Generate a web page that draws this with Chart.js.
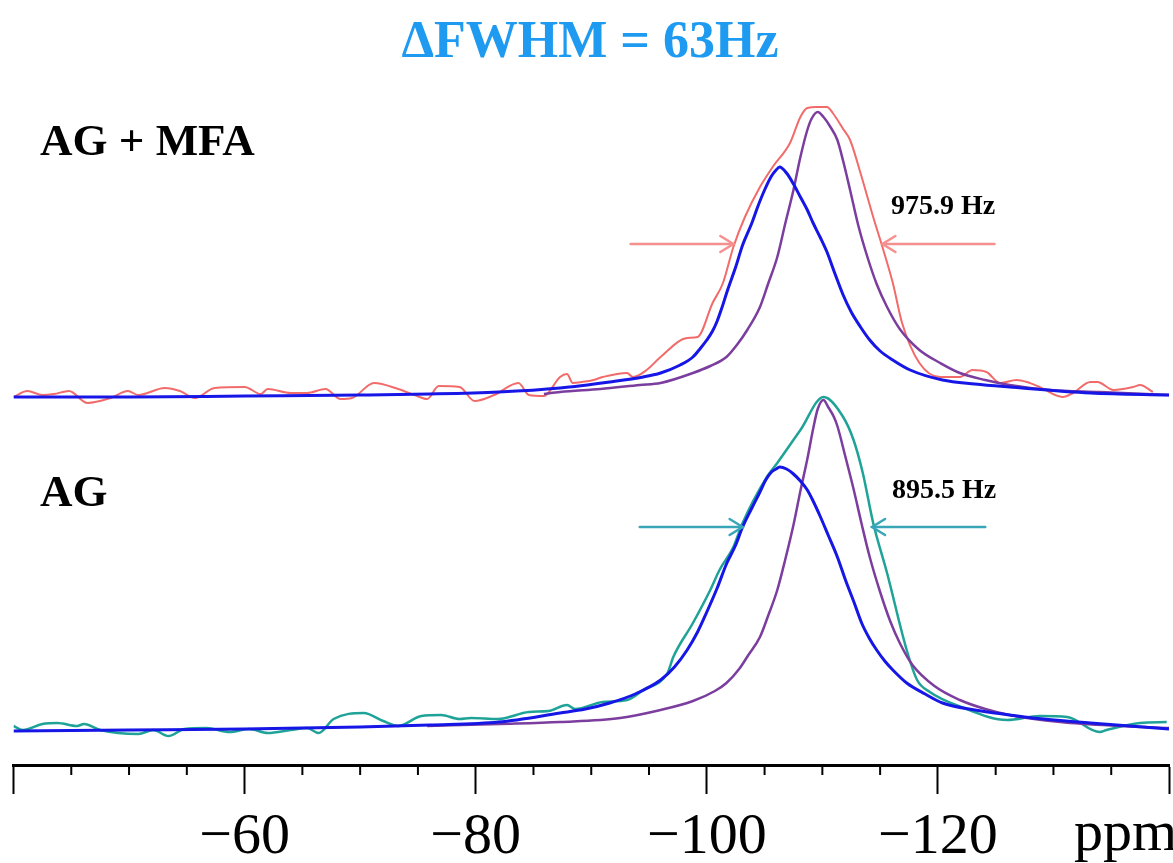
<!DOCTYPE html>
<html><head><meta charset="utf-8">
<script src="https://cdn.jsdelivr.net/npm/chart.js@4.4.1/dist/chart.umd.min.js"></script>
<style>html,body{margin:0;padding:0;background:#fff}#wrap{width:1173px;height:863px;position:relative}</style>
</head><body><div id="wrap"><canvas id="c"></canvas></div>
<script>
// ---- tick labels ----
const majorTicks = [-40, -60, -80, -100, -120, -140];
const minorTicks = [-45, -50, -55, -65, -70, -75, -85, -90, -95, -105, -110, -115, -125, -130, -135];
const labelledTicks = [-60, -80, -100, -120];

// ---- AG + MFA (top) ----
const redPpm = [-40.0,-41.2,-42.5,-43.5,-44.8,-46.4,-48.4,-49.9,-50.8,-53.1,-54.4,-55.7,-57.4,-60.0,-61.4,-62.0,-64.0,-65.4,-67.0,-68.3,-69.3,-71.2,-73.3,-74.7,-75.8,-76.8,-78.6,-79.9,-81.6,-83.7,-84.6,-85.9,-87.3,-87.9,-88.4,-89.2,-90.2,-91.0,-93.1,-93.6,-94.8,-96.0,-98.3,-99.2,-100.5,-101.4,-102.3,-103.3,-104.6,-105.7,-107.2,-108.1,-108.7,-109.5,-110.4,-110.9,-111.8,-112.4,-113.3,-114.4,-115.2,-116.1,-116.9,-118.4,-120.2,-121.9,-123.0,-124.2,-125.4,-126.8,-127.7,-128.8,-130.8,-131.7,-133.2,-133.8,-135.2,-136.9,-137.5,-138.6];
const redInt = [0,6,2,3,6,-6,-1,6,2,9,6,-1,9,10,3,8,4,4,8,-2,-1,14,8,2,-2,11,10,-4,2,14,2,1,20,23,14,15,17,20,24,20,27,40,59,60,94,114,150,180,210,230,254,280,289,290,290,284,268,257,224,180,150,114,74,34,20,20,27,25,14,17,15,10,0,4,15,15,7,10,12,5];

const purpTopPpm = [-85.9,-87.3,-90.8,-94.2,-96.0,-98.8,-100.3,-101.7,-102.6,-103.5,-104.6,-105.3,-106.1,-106.8,-107.5,-108.1,-108.7,-109.1,-109.6,-110.1,-110.7,-111.3,-111.8,-112.4,-113.1,-113.9,-114.7,-115.6,-116.7,-118.4,-120.2,-121.9,-124.1,-126.2,-129.7,-134.0,-140.0];
const purpTopInt = [3,5,8,12,14,24,31,40,52,67,90,113,140,174,207,240,267,279,285,280,270,257,236,207,172,140,113,90,68,47,34,24,17,12,7,5,2];

const blueTopPpm = [-40,-50,-60,-70,-76,-82,-87.3,-91.6,-94.5,-96.0,-97.7,-98.8,-99.4,-100.0,-100.5,-100.9,-101.3,-101.8,-102.5,-103.1,-103.9,-104.4,-105.0,-105.6,-106.0,-106.3,-106.9,-107.5,-108.1,-108.7,-109.2,-109.8,-110.4,-111.1,-111.8,-112.5,-113.3,-114.1,-115.0,-116.1,-117.6,-120.4,-123.2,-126.2,-133.2,-140];
const blueTopInt = [0,0,1,2,3,5,9,15,20,24,32,40,48,57,66,76,89,107,130,152,174,190,207,221,227,230,224,213,200,187,174,160,145,123,102,85,70,57,46,37,27,17,13,10,4,2];

// ---- AG (bottom) ----
const tealPpm = [-40.0,-40.8,-42.5,-43.8,-45.5,-46.1,-47.5,-50.8,-52.1,-53.4,-54.8,-56.7,-58.7,-60.4,-62.0,-64.0,-65.4,-66.4,-67.7,-70.3,-72.0,-73.3,-75.3,-77.0,-78.6,-79.6,-81.9,-84.6,-86.3,-87.9,-88.6,-91.0,-93.1,-94.5,-96.6,-97.1,-98.8,-100.3,-101.1,-102.3,-103.1,-105.2,-106.1,-108.1,-110.1,-111.8,-112.7,-113.5,-114.4,-115.6,-117.3,-118.2,-119.3,-122.0,-126.0,-128.8,-131.2,-134.0,-134.6,-137.5,-139.8];
const tealInt = [3,-1,5,6,3,5,-1,-5,-1,-7,0,1,-3,0,-4,-1,1,-4,10,16,8,3,13,14,10,11,10,17,18,24,20,27,29,39,56,72,106,139,159,182,206,252,266,299,332,312,289,256,206,156,79,49,37,22,9,13,12,-3,-1,6,7];

const purpBotPpm = [-75.8,-82.1,-87.3,-92.5,-96.0,-98.8,-100.7,-101.7,-102.8,-103.6,-104.6,-105.3,-106.1,-106.8,-107.5,-108.1,-108.7,-109.2,-109.6,-110.1,-110.5,-111.0,-111.3,-112.0,-112.7,-113.4,-114.1,-115.0,-115.9,-116.7,-117.8,-119.7,-121.9,-124.1,-126.2,-130.6,-135.8,-140];
const purpBotInt = [3,5,7,11,19,28,38,46,60,74,92,113,139,170,204,238,270,300,320,329,322,312,303,272,240,205,172,137,107,86,64,43,29,20,14,7,3,1];

const blueBotPpm = [-40,-50,-60,-70,-76,-82,-87.3,-89.5,-91.6,-93.8,-96.0,-97.2,-98.3,-99.2,-100.0,-100.9,-101.7,-102.5,-103.1,-103.9,-104.6,-105.1,-105.6,-106.0,-106.3,-106.9,-107.5,-108.1,-108.7,-109.2,-109.8,-110.5,-111.3,-112.0,-112.7,-113.4,-114.1,-114.7,-115.4,-116.1,-117.3,-118.9,-120.4,-123.2,-126.2,-128.2,-133.2,-140];
const blueBotInt = [-2,-1,0,2,4,7,16,20,26,35,49,62,79,97,117,141,165,184,202,221,237,249,257,260,262,260,255,248,239,228,213,194,172,149,128,106,90,79,68,59,46,35,26,19,14,11,6,0];

// FWHM arrows [tail, head] in ppm, and their intensity level
const topArrowLeft = [-93.4, -102.3], topArrowRight = [-124.9, -115.2], topArrowLevel = 153;
const botArrowLeft = [-94.2, -103.1], botArrowRight = [-124.1, -114.3], botArrowLevel = 202;

// vertical stacking offsets of the two spectra
const topOffset = 368, bottomOffset = 36;

const toPts = (xs, ys, off) => xs.map((x, i) => ({ x: x, y: ys[i] + off }));

const COL = { red: '#f26b6b', teal: '#1fa398', purple: '#7b3d9e', blue: '#1616e6',
  redArrow: '#f4918f', tealArrow: '#38a6b8', title: '#1e9bf0' };

function ds(data, color, width, order) {
  return { data, borderColor: color, borderWidth: width, pointRadius: 0, fill: false,
    cubicInterpolationMode: 'monotone', order: order };
}

const annot = {
  id: 'annot',
  afterDraw(chart) {
    const { ctx } = chart; const x = chart.scales.x, y = chart.scales.y;
    const yb = chart.chartArea.bottom;
    ctx.save();
    // minor ticks
    ctx.strokeStyle = '#000'; ctx.lineWidth = 2;
    minorTicks.forEach(v => { const px = x.getPixelForValue(v); ctx.beginPath(); ctx.moveTo(px, yb); ctx.lineTo(px, yb + 10); ctx.stroke(); });
    // arrows
    function arrow(seg, level, color) {
      const p1 = x.getPixelForValue(seg[0]), p2 = x.getPixelForValue(seg[1]), py = y.getPixelForValue(level);
      const d = Math.sign(p2 - p1);
      ctx.strokeStyle = color; ctx.lineWidth = 2.5; ctx.lineCap = 'round';
      ctx.beginPath(); ctx.moveTo(p1, py); ctx.lineTo(p2, py); ctx.stroke();
      ctx.beginPath(); ctx.moveTo(p2 - d * 13, py - 8); ctx.lineTo(p2, py); ctx.lineTo(p2 - d * 13, py + 8); ctx.stroke();
    }
    arrow(topArrowLeft, topArrowLevel + topOffset, COL.redArrow);
    arrow(topArrowRight, topArrowLevel + topOffset, COL.redArrow);
    arrow(botArrowLeft, botArrowLevel + bottomOffset, COL.tealArrow);
    arrow(botArrowRight, botArrowLevel + bottomOffset, COL.tealArrow);
    // texts
    ctx.fillStyle = COL.title; ctx.textAlign = 'center'; ctx.textBaseline = 'alphabetic';
    ctx.font = 'bold 52px "Liberation Serif"';
    ctx.fillText('\u0394FWHM = 63Hz', 590, 57);
    ctx.fillStyle = '#000'; ctx.textAlign = 'left';
    ctx.font = 'bold 45px "Liberation Serif"';
    ctx.fillText('AG + MFA', 40, 155);
    ctx.fillText('AG', 40, 506);
    ctx.font = 'bold 28px "Liberation Serif"';
    ctx.fillText('975.9 Hz', 891, 214);
    ctx.fillText('895.5 Hz', 892, 498);
    ctx.font = '58px "Liberation Serif"';
    ctx.fillText('ppm', 1074, 850);
    ctx.restore();
  }
};

new Chart(document.getElementById('c'), {
  type: 'line',
  data: { datasets: [
    ds(toPts(blueTopPpm, blueTopInt, topOffset), COL.blue, 3, 1),
    ds(toPts(purpTopPpm, purpTopInt, topOffset), COL.purple, 2.5, 2),
    ds(toPts(redPpm, redInt, topOffset), COL.red, 2, 3),
    ds(toPts(blueBotPpm, blueBotInt, bottomOffset), COL.blue, 3, 1),
    ds(toPts(purpBotPpm, purpBotInt, bottomOffset), COL.purple, 2.5, 2),
    ds(toPts(tealPpm, tealInt, bottomOffset), COL.teal, 2.5, 3)
  ] },
  options: {
    responsive: true, maintainAspectRatio: false, animation: false,
    layout: { padding: { left: 13.5, right: 4, top: 0, bottom: 0 } },
    plugins: { legend: { display: false }, tooltip: { enabled: false }, title: { display: false } },
    scales: {
      x: {
        type: 'linear', reverse: true, min: -140, max: -40, position: 'bottom',
        afterBuildTicks: s => { s.ticks = majorTicks.map(v => ({ value: v })); },
        afterFit: s => { s.height = 98; s.paddingLeft = 0; s.paddingRight = 0; },
        ticks: { autoSkip: false, maxRotation: 0, padding: 9, color: '#000',
          font: { family: 'Liberation Serif', size: 58 },
          callback: v => labelledTicks.includes(v) ? '\u2212' + Math.abs(v) : '' },
        grid: { drawOnChartArea: false, drawTicks: true, tickLength: 29, tickWidth: 2, tickColor: '#000' },
        border: { display: true, color: '#000', width: 3 }
      },
      y: { display: false, min: 0, max: 765 }
    }
  },
  plugins: [annot]
});
</script></body></html>
